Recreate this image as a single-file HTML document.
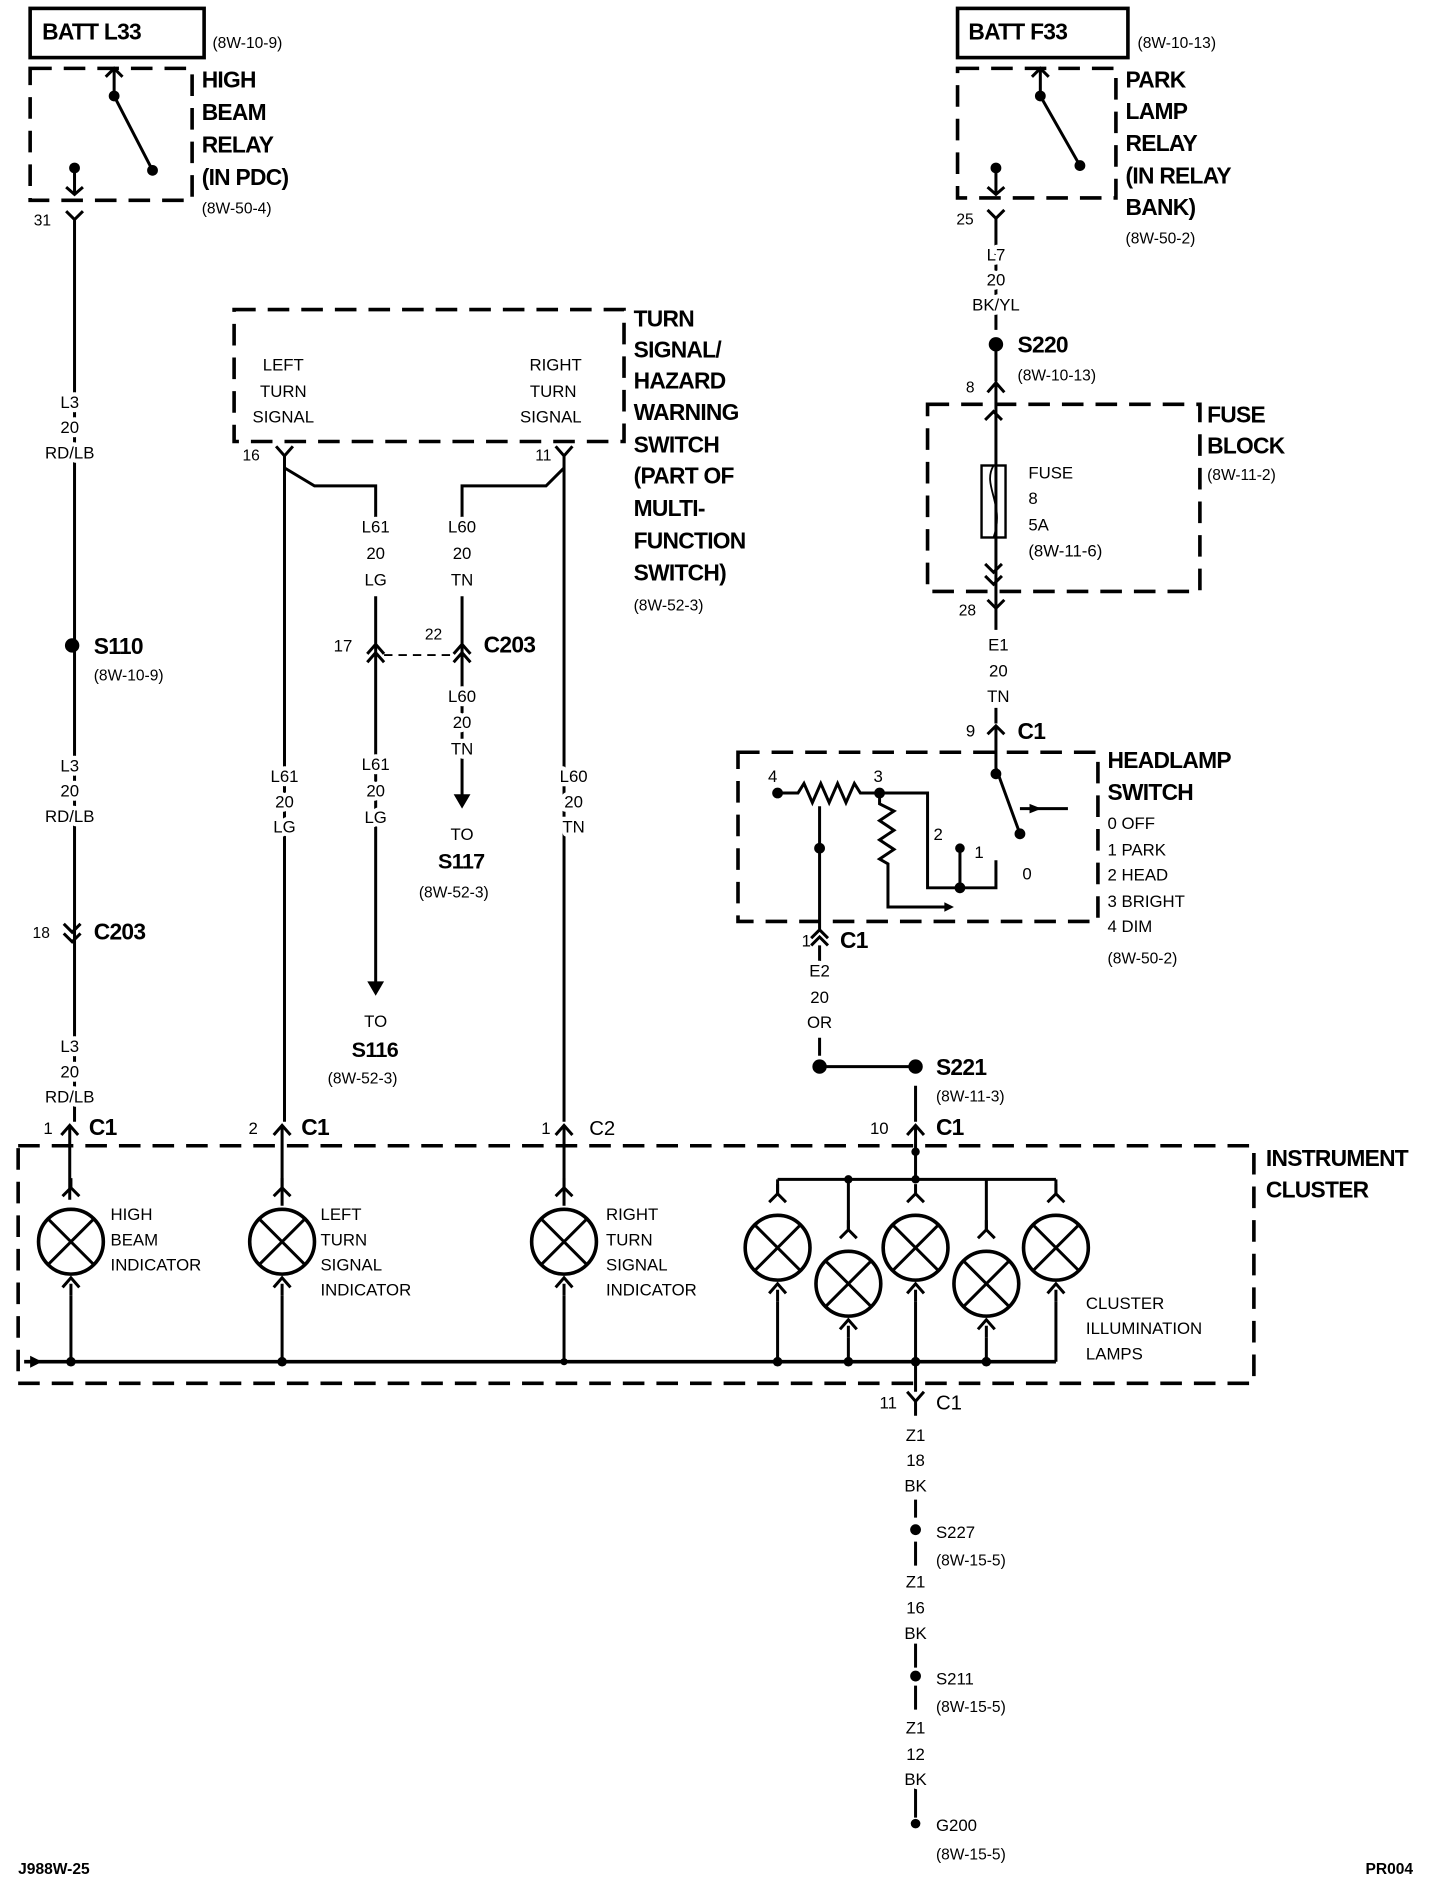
<!DOCTYPE html>
<html><head><meta charset="utf-8"><style>
html,body{margin:0;padding:0;background:#fff}
svg{display:block}
text{font-family:"Liberation Sans",sans-serif;fill:#000}
.b{font-weight:bold;font-size:19px;letter-spacing:-0.6px}
.s{font-size:14px}
.r{font-size:13px}
.w text{paint-order:stroke;stroke:#fff;stroke-width:7px;stroke-linejoin:round}
</style></head><body>
<svg width="1440" height="1892" viewBox="0 0 1200 1577" xmlns="http://www.w3.org/2000/svg">
<defs>
<g id="L" stroke="#000" stroke-width="2.5" fill="none"><circle cx="0" cy="0" r="27" stroke-width="3"/><path d="M-19,-19 L19,19 M19,-19 L-19,19"/><path d="M-7,-38 L0,-45 L7,-38 M0,-45 V-53 M-7,38 L0,30 L7,38 M0,35 V45"/></g>
</defs>
<g stroke="#000" stroke-width="2.5" fill="none">
<rect x="25" y="7" width="145" height="41" stroke-width="3"/>
<rect x="25" y="57" width="135" height="110" stroke-dasharray="18,10" stroke-width="3"/>
<path d="M88,64 L95,57 L102,64 M95,57 V80 L127,142"/>
<path d="M62,140 V162 M55,156 L62,162 L69,156"/>
<path d="M55,176 L62,183 L69,176 M62,183 V935"/>
<path d="M53,770 L60,777 L67,770 M53,778 L60,785 L67,778"/>
<path d="M51,946 L58,938 L65,946 M58,938 V1000"/>
<rect x="195" y="258" width="325" height="110" stroke-dasharray="18,10" stroke-width="3"/>
<path d="M230,372 L237,380 L244,372 M237,380 V935 M237,390 L262,405 H313 V432"/>
<path d="M463,372 L470,380 L477,372 M470,380 V935 M470,390 L455,405 H385 V432"/>
<path d="M313,497 V825 M306,545 L313,537 L320,545 M306,552 L313,544 L320,552"/>
<path d="M385,497 V668 M378,545 L385,537 L392,545 M378,552 L385,544 L392,552"/>
<path d="M320,546 H375" stroke-dasharray="7,5" stroke-width="1.5"/>
<path d="M228,946 L235,938 L242,946 M235,938 V1005 M463,946 L470,938 L477,946 M470,938 V1005"/>
<rect x="798" y="7" width="142" height="41" stroke-width="3"/>
<rect x="798" y="57" width="132" height="108" stroke-dasharray="18,10" stroke-width="3"/>
<path d="M860,64 L867,57 L874,64 M867,57 V80 L900,138"/>
<path d="M830,140 V162 M823,156 L830,162 L837,156"/>
<path d="M823,175 L830,182 L837,175 M830,182 V275 M830,290 V318 M823,327 L830,319 L837,327 M830,319 V505"/>
<rect x="773" y="337" width="227" height="156" stroke-dasharray="18,10" stroke-width="3"/>
<rect x="818" y="388" width="20" height="60" stroke-width="2"/>
<path d="M828,388 C818,405 838,420 828,448" stroke-width="1.5"/>
<path d="M821,350 L828,343 L835,350 M821,470 L828,477 L835,470 M821,480 L828,487 L835,480 M823,500 L830,507 L837,500 M830,507 V525 M830,590 V603 M823,612 L830,605 L837,612 M830,605 V640 L850,695"/>
<rect x="615" y="627" width="300" height="141" stroke-dasharray="18,10" stroke-width="3"/>
<path d="M648,661 H665 L670,653 L677,669 L684,653 L691,669 L698,653 L705,669 L712,653 L717,661 H733 H773 V740 H830 V717 M800,740 V707 M733,661 V670 L745,676 L733,684 L745,692 L733,700 L745,708 L733,716 L740,720 V756 H790 M683,672 V775 M676,782 L683,775 L690,782 M676,788 L683,781 L690,788 M683,788 V805"/>
<path d="M850,674 H890"/>
<path d="M683,865 V880 M683,889 H763 M763,905 V935 M756,946 L763,938 L770,946 M763,938 V983 M648,983 H880"/>
<rect x="15" y="955" width="1030" height="198" stroke-dasharray="18,10" stroke-width="3"/>
<path d="M20,1135 H880" stroke-width="3"/>
<path d="M59,1080 V1135 M235,1080 V1135 M470,1080 V1135 M648,983 V995 M648,1085 V1135 M707,983 V1025 M707,1115 V1135 M763,1085 V1135 M822,983 V1025 M822,1115 V1135 M880,983 V995 M880,1085 V1135"/>
<path d="M763,1135 V1160 M756,1160 L763,1168 L770,1160 M763,1168 V1180 M763,1250 V1265 M763,1285 V1305 M763,1370 V1390 M763,1405 V1425 M763,1490 V1515"/>
</g>
<use href="#L" x="59" y="1035"/><use href="#L" x="235" y="1035"/><use href="#L" x="470" y="1035"/>
<use href="#L" x="648" y="1040"/><use href="#L" x="707" y="1070"/><use href="#L" x="763" y="1040"/><use href="#L" x="822" y="1070"/><use href="#L" x="880" y="1040"/>
<path d="M25,1130 L35,1135 L25,1140Z M306,818 L313,830 L320,818Z M378,662 L385,674 L392,662Z M787,752 L795,756 L787,760Z M858,670 L868,674 L858,678Z" fill="#000"/>
<g fill="#000">
<circle cx="95" cy="80" r="4.5"/><circle cx="127" cy="142" r="4.5"/><circle cx="62" cy="140" r="4.5"/>
<circle cx="867" cy="80" r="4.5"/><circle cx="900" cy="138" r="4.5"/><circle cx="830" cy="140" r="4.5"/>
<circle cx="60" cy="538" r="6"/><circle cx="830" cy="287" r="6"/><circle cx="683" cy="889" r="6"/><circle cx="763" cy="889" r="6"/>
<circle cx="648" cy="661" r="4.5"/><circle cx="733" cy="661" r="4.5"/><circle cx="683" cy="707" r="4.5"/><circle cx="830" cy="645" r="4.5"/><circle cx="850" cy="695" r="4.5"/><circle cx="800" cy="707" r="4"/><circle cx="800" cy="740" r="4.5"/>
<circle cx="763" cy="1275" r="4.5"/><circle cx="763" cy="1397" r="4.5"/><circle cx="763" cy="1520" r="4"/>
<circle cx="59" cy="1135" r="4"/><circle cx="235" cy="1135" r="4"/><circle cx="470" cy="1135" r="3"/><circle cx="648" cy="1135" r="4"/><circle cx="707" cy="1135" r="4"/><circle cx="763" cy="1135" r="4"/><circle cx="822" cy="1135" r="4"/>
<circle cx="707" cy="983" r="3.5"/><circle cx="763" cy="983" r="3.5"/><circle cx="763" cy="960" r="3.5"/>
</g>
<text class="b" x="35" y="33">BATT L33</text><text class="r" x="177" y="40">(8W-10-9)</text>
<text class="b" x="168" y="73">HIGH</text><text class="b" x="168" y="100">BEAM</text><text class="b" x="168" y="127">RELAY</text><text class="b" x="168" y="154">(IN PDC)</text><text class="r" x="168" y="178">(8W-50-4)</text>
<text class="r" x="28" y="188">31</text>
<g class="s w" text-anchor="middle">
<text x="58" y="340">L3</text><text x="58" y="361">20</text><text x="58" y="382">RD/LB</text>
<text x="58" y="643">L3</text><text x="58" y="664">20</text><text x="58" y="685">RD/LB</text>
<text x="58" y="877">L3</text><text x="58" y="898">20</text><text x="58" y="919">RD/LB</text>
<text x="313" y="444">L61</text><text x="313" y="466">20</text><text x="313" y="488">LG</text>
<text x="385" y="444">L60</text><text x="385" y="466">20</text><text x="385" y="488">TN</text>
<text x="385" y="585">L60</text><text x="385" y="607">20</text><text x="385" y="629">TN</text>
<text x="313" y="642">L61</text><text x="313" y="664">20</text><text x="313" y="686">LG</text>
<text x="237" y="652">L61</text><text x="237" y="673">20</text><text x="237" y="694">LG</text>
<text x="478" y="652">L60</text><text x="478" y="673">20</text><text x="478" y="694">TN</text>
<text x="385" y="700">TO</text><text x="313" y="856">TO</text>
<text x="830" y="217">L7</text><text x="830" y="238">20</text><text x="830" y="259">BK/YL</text>
<text x="832" y="542">E1</text><text x="832" y="564">20</text><text x="832" y="585">TN</text>
<text x="683" y="814">E2</text><text x="683" y="836">20</text><text x="683" y="857">OR</text>
<text x="763" y="1201">Z1</text><text x="763" y="1222">18</text><text x="763" y="1243">BK</text>
<text x="763" y="1323">Z1</text><text x="763" y="1345">16</text><text x="763" y="1366">BK</text>
<text x="763" y="1445">Z1</text><text x="763" y="1467">12</text><text x="763" y="1488">BK</text>
<text x="236" y="309">LEFT</text><text x="236" y="331">TURN</text><text x="236" y="352">SIGNAL</text>
<text x="463" y="309">RIGHT</text><text x="461" y="331">TURN</text><text x="459" y="352">SIGNAL</text>
</g>
<text class="b" x="78" y="545">S110</text><text class="r" x="78" y="567">(8W-10-9)</text>
<text class="r" x="27" y="782">18</text><text class="b" x="78" y="783">C203</text>
<text class="s" x="36" y="945">1</text><text class="b" x="74" y="946">C1</text>
<text class="s" x="207" y="945">2</text><text class="b" x="251" y="946">C1</text>
<text class="s" x="451" y="945">1</text><text class="s" x="491" y="946" style="font-size:17px">C2</text>
<text class="s" x="725" y="945">10</text><text class="b" x="780" y="946">C1</text>
<text class="r" x="202" y="384">16</text><text class="r" x="446" y="384">11</text>
<text class="s" x="278" y="543">17</text><text class="r" x="354" y="533">22</text><text class="b" x="403" y="544">C203</text>
<text class="b" x="365" y="724" style="font-size:18px">S117</text><text class="r" x="349" y="748">(8W-52-3)</text>
<text class="b" x="293" y="881" style="font-size:18px">S116</text><text class="r" x="273" y="903">(8W-52-3)</text>
<g class="b"><text x="528" y="272">TURN</text><text x="528" y="298">SIGNAL/</text><text x="528" y="324">HAZARD</text><text x="528" y="350">WARNING</text><text x="528" y="377">SWITCH</text><text x="528" y="403">(PART OF</text><text x="528" y="430">MULTI-</text><text x="528" y="457">FUNCTION</text><text x="528" y="484">SWITCH)</text></g>
<text class="r" x="528" y="509">(8W-52-3)</text>
<text class="b" x="807" y="33">BATT F33</text><text class="r" x="948" y="40">(8W-10-13)</text>
<g class="b"><text x="938" y="73">PARK</text><text x="938" y="99">LAMP</text><text x="938" y="126">RELAY</text><text x="938" y="153">(IN RELAY</text><text x="938" y="179">BANK)</text>
<text x="1006" y="352">FUSE</text><text x="1006" y="378">BLOCK</text>
<text x="923" y="640">HEADLAMP</text><text x="923" y="667">SWITCH</text>
<text x="1055" y="972">INSTRUMENT</text><text x="1055" y="998">CLUSTER</text></g>
<text class="r" x="938" y="203">(8W-50-2)</text>
<text class="r" x="797" y="187">25</text>
<text class="b" x="848" y="294">S220</text><text class="r" x="848" y="317">(8W-10-13)</text>
<text class="r" x="805" y="327">8</text>
<text class="r" x="1006" y="400">(8W-11-2)</text>
<g class="s"><text x="857" y="399">FUSE</text><text x="857" y="420">8</text><text x="857" y="442">5A</text><text x="857" y="464">(8W-11-6)</text></g>
<text class="r" x="799" y="513">28</text>
<text class="s" x="805" y="614">9</text><text class="b" x="848" y="616">C1</text>
<g class="s"><text x="640" y="652">4</text><text x="728" y="652">3</text><text x="778" y="700">2</text><text x="812" y="715">1</text><text x="852" y="733">0</text>
<text x="923" y="691">0 OFF</text><text x="923" y="713">1 PARK</text><text x="923" y="734">2 HEAD</text><text x="923" y="756">3 BRIGHT</text><text x="923" y="777">4 DIM</text></g>
<text class="r" x="923" y="803">(8W-50-2)</text>
<text class="s" x="668" y="789">1</text><text class="b" x="700" y="790">C1</text>
<text class="b" x="780" y="896">S221</text><text class="r" x="780" y="918">(8W-11-3)</text>
<g class="s">
<text x="92" y="1017">HIGH</text><text x="92" y="1038">BEAM</text><text x="92" y="1059">INDICATOR</text>
<text x="267" y="1017">LEFT</text><text x="267" y="1038">TURN</text><text x="267" y="1059">SIGNAL</text><text x="267" y="1080">INDICATOR</text>
<text x="505" y="1017">RIGHT</text><text x="505" y="1038">TURN</text><text x="505" y="1059">SIGNAL</text><text x="505" y="1080">INDICATOR</text>
<text x="905" y="1091">CLUSTER</text><text x="905" y="1112">ILLUMINATION</text><text x="905" y="1133">LAMPS</text></g>
<text class="s" x="733" y="1174">11</text><text class="s" x="780" y="1175" style="font-size:17px">C1</text>
<text class="s" x="780" y="1282">S227</text><text class="r" x="780" y="1305">(8W-15-5)</text>
<text class="s" x="780" y="1404">S211</text><text class="r" x="780" y="1427">(8W-15-5)</text>
<text class="s" x="780" y="1526">G200</text><text class="r" x="780" y="1550">(8W-15-5)</text>
<text class="r" x="15" y="1562" style="font-weight:bold">J988W-25</text>
<text class="r" x="1138" y="1562" style="font-weight:bold">PR004</text>
</svg>
</body></html>
